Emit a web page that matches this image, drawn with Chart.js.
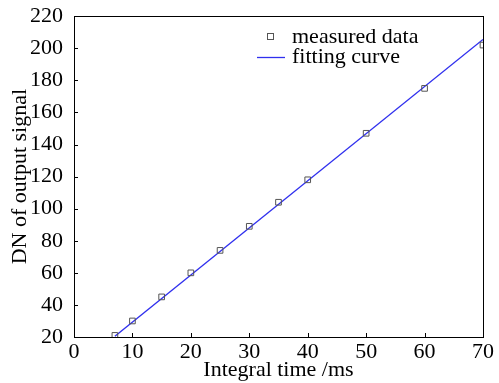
<!DOCTYPE html>
<html>
<head>
<meta charset="utf-8">
<script src="https://cdn.jsdelivr.net/npm/chart.js@4.4.0/dist/chart.umd.min.js"></script>
<style>
  html, body { margin: 0; padding: 0; background: #fff; }
  #wrap { width: 499px; height: 383px; }
</style>
</head>
<body>
<div id="wrap"><canvas id="myChart" width="499" height="383"></canvas></div>
<script>
// dados
var tempos = [7, 10, 15, 20, 25, 30, 35, 40, 50, 60, 70];
var medidos = [21, 30, 45, 60, 74, 89, 104, 118, 147, 175, 202];
var ajusteX = [7, 70];
var ajusteY = [20.5, 205.5];
var xTicks = [0, 10, 20, 30, 40, 50, 60, 70];
var yTicks = [20, 40, 60, 80, 100, 120, 140, 160, 180, 200, 220];

var fonte = '"Liberation Serif", "Times New Roman", serif';
var tam = 22;

// moldura, ticks para dentro e legenda
var moldura = {
    id: 'moldura',
    afterDraw: function(chart) {
        var c = chart.ctx;
        var a = chart.chartArea;
        var sx = chart.scales.x;
        var sy = chart.scales.y;
        c.save();
        c.strokeStyle = '#000';
        c.lineWidth = 1;
        c.strokeRect(Math.round(a.left) + 0.5, Math.round(a.top) + 0.5,
            Math.round(a.right - a.left), Math.round(a.bottom - a.top));
        c.beginPath();
        xTicks.forEach(function(v) {
            var px = Math.round(sx.getPixelForValue(v)) + 0.5;
            c.moveTo(px, a.bottom);
            c.lineTo(px, a.bottom - 4);
        });
        yTicks.forEach(function(v) {
            var py = Math.round(sy.getPixelForValue(v)) + 0.5;
            c.moveTo(a.left, py);
            c.lineTo(a.left + 4, py);
        });
        c.stroke();

        // legenda
        c.font = tam + 'px ' + fonte;
        c.fillStyle = '#000';
        c.textBaseline = 'middle';
        c.strokeStyle = '#555';
        c.strokeRect(267.5, 33.5, 6, 6);
        c.fillText('measured data', 292, 37);
        c.strokeStyle = '#3030ee';
        c.lineWidth = 1.3;
        c.beginPath();
        c.moveTo(257, 57.5);
        c.lineTo(285, 57.5);
        c.stroke();
        c.fillText('fitting curve', 292, 57);
        c.restore();
    }
};

var ctx = document.getElementById('myChart').getContext('2d');
var myChart = new Chart(ctx, {
    type: 'scatter',
    data: {
        datasets: [{
            label: 'measured data',
            data: tempos.map(function(t, i) { return { x: t, y: medidos[i] }; }),
            pointStyle: 'rect',
            pointRadius: 4,
            borderColor: '#555',
            backgroundColor: 'rgba(0,0,0,0)',
            borderWidth: 1
        }, {
            label: 'fitting curve',
            data: ajusteX.map(function(t, i) { return { x: t, y: ajusteY[i] }; }),
            showLine: true,
            pointRadius: 0,
            borderColor: '#3030ee',
            borderWidth: 1.4
        }]
    },
    options: {
        responsive: false,
        animation: false,
        layout: { padding: { left: 0, right: 16, top: 14, bottom: 0 } },
        plugins: {
            legend: { display: false },
            tooltip: { enabled: false }
        },
        scales: {
            x: {
                min: 0,
                max: 70,
                afterBuildTicks: function(s) { s.ticks = xTicks.map(function(v) { return { value: v }; }); },
                afterFit: function(s) { s.height = 46; },
                grid: { display: false },
                border: { display: false },
                ticks: { color: '#000', padding: -6, maxRotation: 0, font: { family: fonte, size: tam } },
                title: {
                    display: true,
                    text: 'Integral time /ms',
                    color: '#000',
                    padding: { top: 0, bottom: 0 },
                    font: { family: fonte, size: tam }
                }
            },
            y: {
                min: 20,
                max: 220,
                afterBuildTicks: function(s) { s.ticks = yTicks.map(function(v) { return { value: v }; }); },
                afterFit: function(s) { s.width = 74; },
                grid: { display: false },
                border: { display: false },
                ticks: { color: '#000', padding: 3, font: { family: fonte, size: tam } },
                title: {
                    display: true,
                    text: 'DN of output signal',
                    color: '#000',
                    padding: { top: 7, bottom: 0 },
                    font: { family: fonte, size: tam }
                }
            }
        }
    },
    plugins: [moldura]
});
</script>
</body>
</html>
